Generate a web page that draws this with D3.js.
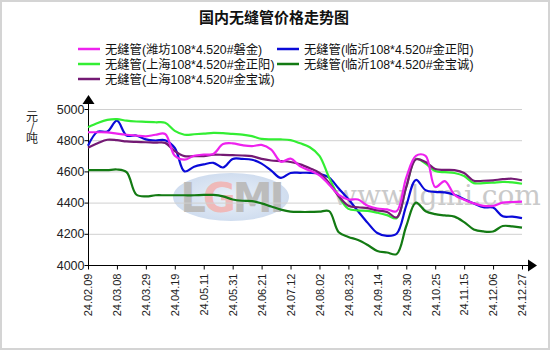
<!DOCTYPE html>
<html><head><meta charset="utf-8">
<script src="https://cdn.jsdelivr.net/npm/d3@7"></script>
<style>html,body{margin:0;padding:0;background:#fff;}svg{display:block;}</style>
</head><body>
<svg id="c" width="550" height="350"></svg>
<script>
const title = "国内无缝管价格走势图";
const tickLabels = ["24.02.09","24.03.08","24.03.29","24.04.19","24.05.11","24.05.31","24.06.21","24.07.12","24.08.02","24.08.23","24.09.14","24.09.30","24.10.25","24.11.15","24.12.06","24.12.27"];
// sample positions measured in tick intervals (every 5 trading days)
const samplePos = d3.range(0, 46).map(i => i / 3);
const yTicks = [4000, 4200, 4400, 4600, 4800, 5000];
const unitLabel = "元/吨";
const seriesNames = ["无缝管(潍坊108*4.520#磐金)","无缝管(临沂108*4.520#金正阳)","无缝管(上海108*4.520#金正阳)","无缝管(临沂108*4.520#金宝诚)","无缝管(上海108*4.520#金宝诚)"];
const seriesColors = ["#ee22ee","#0a0ad8","#33ee33","#137a13","#741a74"];
const weifangPanjin = [4851,4851,4850,4842,4835,4830,4825,4835,4840,4700,4675,4700,4708,4712,4775,4780,4768,4762,4770,4740,4662,4682,4632,4605,4575,4515,4450,4420,4420,4380,4362,4357,4345,4560,4700,4700,4500,4538,4450,4418,4395,4379,4379,4400,4404,4406];
const linyiJinzhengyang = [4765,4855,4855,4925,4830,4830,4805,4798,4800,4750,4600,4630,4645,4655,4625,4680,4680,4675,4650,4605,4558,4590,4591,4591,4585,4560,4490,4421,4345,4270,4205,4187,4200,4380,4545,4480,4468,4465,4450,4422,4395,4370,4368,4312,4310,4300];
const shanghaiJinzhengyang = [4883,4910,4930,4935,4925,4920,4918,4915,4912,4860,4835,4838,4842,4847,4845,4840,4836,4826,4808,4805,4805,4800,4780,4755,4700,4560,4440,4360,4350,4347,4335,4320,4300,4500,4680,4650,4602,4595,4590,4570,4525,4525,4528,4532,4530,4521];
const linyiJinbaocheng = [4608,4608,4608,4612,4595,4452,4440,4447,4447,4447,4447,4447,4449,4449,4440,4420,4412,4410,4395,4375,4355,4342,4340,4340,4342,4345,4210,4180,4160,4128,4090,4080,4070,4250,4400,4345,4326,4318,4310,4275,4228,4215,4215,4250,4248,4240];
const shanghaiJinbaocheng = [4751,4780,4803,4800,4792,4789,4787,4784,4783,4730,4698,4698,4698,4707,4706,4704,4702,4698,4680,4670,4666,4660,4645,4620,4590,4525,4440,4380,4370,4365,4350,4340,4305,4500,4677,4660,4615,4610,4608,4590,4540,4540,4543,4550,4553,4543];
const seriesValues = [weifangPanjin, linyiJinzhengyang, shanghaiJinzhengyang, linyiJinbaocheng, shanghaiJinbaocheng];
// draw order (back to front)
const drawOrder = [3, 1, 2, 4, 0];

const svg = d3.select("#c");
const font = "'Liberation Sans', Arial, 'Noto Sans CJK SC', sans-serif";
svg.append("rect").attr("x",1).attr("y",1).attr("width",548).attr("height",348)
  .attr("fill","#fff").attr("stroke","#d4d4d4").attr("stroke-width",2);

const L = 88, R = 522, T = 109, B = 265;
const x = d3.scaleLinear().domain([0, tickLabels.length - 1]).range([L, R]);
const y = d3.scaleLinear().domain([4000, 5000]).range([B, T]);

// title
svg.append("text").attr("x", 274).attr("y", 23).attr("text-anchor","middle")
  .attr("font-family", "'Noto Sans CJK SC', sans-serif").attr("font-weight","bold").attr("font-size",15)
  .attr("fill","#111").text(title);

// legend
const legPos = [[78,49],[277,49],[78,64],[277,64],[78,79]];
seriesNames.forEach((n,i) => {
  const [lx, ly] = legPos[i];
  svg.append("line").attr("x1",lx).attr("x2",lx+22).attr("y1",ly).attr("y2",ly)
    .attr("stroke",seriesColors[i]).attr("stroke-width",2.5);
  svg.append("text").attr("x",lx+27).attr("y",ly+4.5).attr("font-family",font)
    .attr("font-size",12.3).attr("fill","#111").text(n);
});

// watermark
const wm = svg.append("g");
const grad = svg.append("defs").append("radialGradient").attr("id","wmg");
grad.append("stop").attr("offset","0%").attr("stop-color","#eaf1f9");
grad.append("stop").attr("offset","100%").attr("stop-color","#d0ddef");
wm.append("ellipse").attr("cx",231).attr("cy",197).attr("rx",58).attr("ry",24).attr("fill","url(#wmg)");
wm.append("text").attr("x",231).attr("y",212).attr("text-anchor","middle").attr("font-family","'DejaVu Sans', sans-serif")
  .attr("font-weight","bold").attr("font-size",40).attr("letter-spacing",-3)
  .selectAll("tspan").data(["L","G","M","I"]).join("tspan")
  .attr("fill",d => d === "G" ? "#efb9b9" : "#bcbcbc").text(d => d);
wm.append("text").attr("x",333).attr("y",205).attr("font-family","'DejaVu Serif', 'Liberation Serif', serif")
  .attr("font-size",28).attr("fill","#cacaca").text("www.lgmi.com");

// grid
svg.append("g").selectAll("line").data(yTicks.slice(1)).join("line")
  .attr("x1",L).attr("x2",R).attr("y1",d=>y(d)+0.5).attr("y2",d=>y(d)+0.5)
  .attr("stroke","#d0d0d0").attr("stroke-width",1);

// y axis
const ya = svg.append("g").attr("transform",`translate(${L+0.5},0)`)
  .call(d3.axisLeft(y).tickValues(yTicks).tickSize(4).tickSizeOuter(0).tickFormat(d3.format("d")));
ya.select(".domain").attr("d",`M0,${B}V${T-8}`).attr("stroke","#000");
ya.selectAll(".tick line").attr("stroke","#000");
ya.selectAll("text").attr("font-family",font).attr("font-size",12.5).attr("fill","#222").attr("x",-4);
svg.append("path").attr("d",`M${L+0.5},${T-14}l-6,9h12z`).attr("fill","#000");

// x axis
const xa = svg.append("g").attr("transform",`translate(0,${B+0.5})`)
  .call(d3.axisBottom(x).tickValues(d3.range(tickLabels.length)).tickSize(4).tickSizeOuter(0)
    .tickFormat(i => tickLabels[i]));
xa.select(".domain").attr("d",`M${L},0H${R+8}`).attr("stroke","#000");
xa.selectAll(".tick line").attr("stroke","#000");
xa.selectAll("text").attr("font-family",font).attr("font-size",11).attr("fill","#222")
  .attr("transform","rotate(-90)").attr("text-anchor","end").attr("x",-8).attr("y",0).attr("dy","0.35em");
svg.append("path").attr("d",`M${R+15},${B+0.5}l-9,-6v12z`).attr("fill","#000");

// y unit label (vertical)
svg.append("text").attr("x",32).attr("y",110)
  .attr("font-family","'Noto Sans CJK SC', sans-serif").attr("font-size",12).attr("fill","#222")
  .style("writing-mode","vertical-rl").style("text-orientation","upright").style("letter-spacing","-1px")
  .text(unitLabel);

// lines
const line = d3.line().x((d,i)=>x(samplePos[i])).y(d=>y(d)).curve(d3.curveCatmullRom.alpha(0.5));
drawOrder.forEach(i => {
  svg.append("path").datum(seriesValues[i]).attr("d",line).attr("fill","none")
    .attr("stroke",seriesColors[i]).attr("stroke-width",2.2).attr("stroke-linejoin","round");
});
</script>
</body></html>
